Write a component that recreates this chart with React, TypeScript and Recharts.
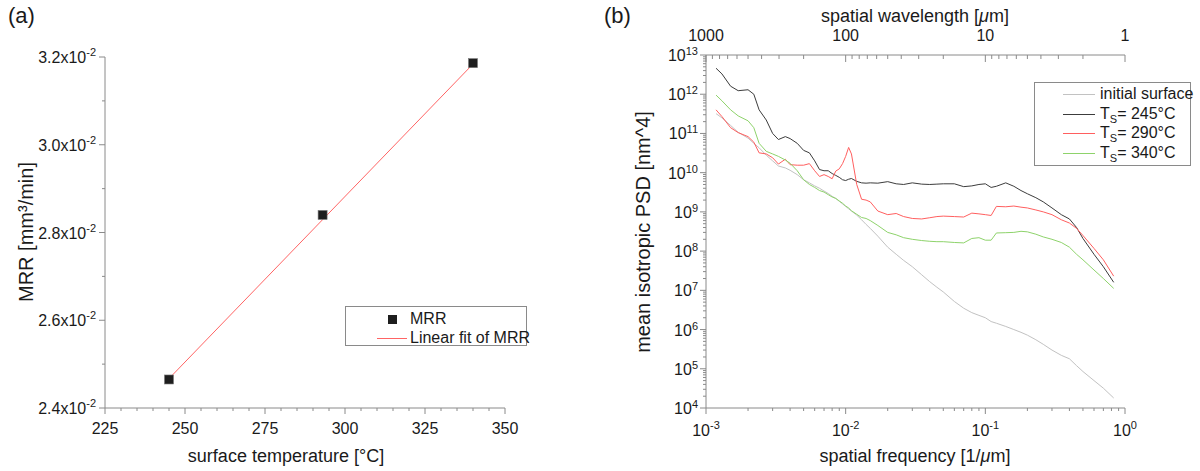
import {
  ComposedChart,
  Line,
  LineChart,
  Scatter,
  XAxis,
  YAxis,
} from "recharts";

const FONT = '"Liberation Sans", Arial, Helvetica, sans-serif';
const AXIS = "#8a8a8a";
const INK = "#1a1a1a";
const TICK_FONT = 16;
const SUP_FONT = 11;

// (a) material removal rate vs surface temperature
const temperatures = [245, 293, 340];
const mrrValues = [0.02465, 0.0284, 0.03186];
const fitTemperatures = [245, 340];
const fitValues = [0.02467, 0.03184];
const tempTicks = [
  225, 230, 235, 240, 245, 250, 255, 260, 265, 270, 275, 280, 285, 290, 295, 300,
  305, 310, 315, 320, 325, 330, 335, 340, 345, 350,
];
const tempMajor = [225, 250, 275, 300, 325, 350];
const mrrTicks = [0.024, 0.025, 0.026, 0.027, 0.028, 0.029, 0.03, 0.031, 0.032];
const mrrMajor = [0.024, 0.026, 0.028, 0.03, 0.032];
const mrrMajorLabels = ["2.4", "2.6", "2.8", "3.0", "3.2"];

// (b) mean isotropic PSD vs spatial frequency
const freq = [
  0.00118, 0.0013, 0.0015, 0.0017, 0.002, 0.0022, 0.0024, 0.0027, 0.003, 0.0033,
  0.0037, 0.004, 0.0045, 0.005, 0.0055, 0.006, 0.0065, 0.007, 0.0075, 0.008,
  0.0085, 0.009, 0.0095, 0.01, 0.0105, 0.011, 0.012, 0.013, 0.014, 0.015,
  0.017, 0.02, 0.023, 0.026, 0.03, 0.035, 0.04, 0.045, 0.05, 0.06,
  0.07, 0.08, 0.09, 0.1, 0.11, 0.12, 0.14, 0.16, 0.18, 0.2,
  0.23, 0.26, 0.3, 0.35, 0.4, 0.45, 0.5, 0.6, 0.7, 0.83,
];
const psdInitial = [
  3.2e11, 2.5e11, 1.6e11, 1.07e11, 7.6e10, 5.6e10, 4.3e10, 2.8e10, 2e10, 1.48e10,
  1.32e10, 1.15e10, 8.9e9, 6.6e9, 5.5e9, 4.6e9, 4e9, 3.4e9, 2.95e9, 2.5e9,
  2.2e9, 1.86e9, 1.6e9, 1.38e9, 1.2e9, 1.05e9, 8.3e8, 6.3e8, 4.8e8, 3.8e8,
  2.4e8, 1.26e8, 8.3e7, 5.8e7, 4e7, 2.5e7, 1.66e7, 1.2e7, 9.1e6, 5.2e6,
  3.5e6, 2.7e6, 2.3e6, 2e6, 1.6e6, 1.45e6, 1.2e6, 1e6, 8.5e5, 7.2e5,
  5.5e5, 4.2e5, 3e5, 2.2e5, 1.8e5, 1.2e5, 8.5e4, 5e4, 3.2e4, 1.8e4,
];
const psd245 = [
  4.6e12, 3.3e12, 1.6e12, 1.23e12, 1.3e12, 1.0e12, 4e11, 2.2e11, 1.0e11, 7e10,
  8.3e10, 7.4e10, 5.6e10, 3.7e10, 3.2e10, 2e10, 1.2e10, 1.12e10, 1.12e10, 9.5e9,
  8.5e9, 7.6e9, 6.6e9, 6.3e9, 6.8e9, 7.1e9, 6e9, 5.5e9, 5.4e9, 5.5e9,
  5.4e9, 5.9e9, 5.2e9, 5.0e9, 5.5e9, 5.1e9, 5.0e9, 5.1e9, 5.2e9, 5.2e9,
  4.4e9, 4.6e9, 5.0e9, 5.2e9, 4.2e9, 4.5e9, 5.5e9, 4.5e9, 3.5e9, 2.9e9,
  2.3e9, 1.8e9, 1.26e9, 8.5e8, 6.6e8, 4e8, 2.1e8, 8.3e7, 4e7, 1.6e7,
];
const psd290 = [
  4.0e11, 2.7e11, 1.4e11, 1.05e11, 8.3e10, 6e10, 3.2e10, 3.0e10, 2.4e10, 1.66e10,
  2.2e10, 1.6e10, 1.55e10, 1.55e10, 1.7e10, 1.12e10, 8e9, 8.9e9, 8e9, 7e9,
  1.1e10, 1.25e10, 1.7e10, 2.6e10, 4.4e10, 3.0e10, 5e9, 2.1e9, 2e9, 1.8e9,
  1.05e9, 8.5e8, 9.1e8, 7.6e8, 6.8e8, 6.6e8, 7.1e8, 7.6e8, 7.8e8, 7.6e8,
  7.4e8, 9.3e8, 8.9e8, 8.5e8, 8.1e8, 1.38e9, 1.35e9, 1.41e9, 1.32e9, 1.26e9,
  1.12e9, 1.0e9, 8.5e8, 6.3e8, 5.2e8, 3.8e8, 2.5e8, 1.17e8, 6e7, 2.3e7,
];
const psd340 = [
  9.5e11, 6.8e11, 4e11, 2.8e11, 2.1e11, 1.4e11, 5.6e10, 3.5e10, 3e10, 2.6e10,
  2.1e10, 1.74e10, 1.12e10, 6.6e9, 5e9, 4.2e9, 3.5e9, 3.2e9, 2.75e9, 2.4e9,
  2.2e9, 1.9e9, 1.66e9, 1.41e9, 1.26e9, 1.07e9, 8.7e8, 7.2e8, 6.8e8, 6e8,
  4.5e8, 3e8, 2.6e8, 2.2e8, 2e8, 1.86e8, 1.78e8, 1.74e8, 1.74e8, 1.66e8,
  1.62e8, 2.1e8, 2.2e8, 1.9e8, 1.9e8, 2.9e8, 2.95e8, 3e8, 3.2e8, 3.1e8,
  2.7e8, 2.3e8, 2e8, 1.66e8, 1.26e8, 8.3e7, 6e7, 3.3e7, 2e7, 1.12e7,
];
const freqTicks = [
  0.001, 0.002, 0.003, 0.004, 0.005, 0.006, 0.007, 0.008, 0.009,
  0.01, 0.02, 0.03, 0.04, 0.05, 0.06, 0.07, 0.08, 0.09,
  0.1, 0.2, 0.3, 0.4, 0.5, 0.6, 0.7, 0.8, 0.9, 1,
];
const freqMajor = [0.001, 0.01, 0.1, 1];
const freqMajorExp = ["-3", "-2", "-1", "0"];
const wavelengths = [
  1000, 900, 800, 700, 600, 500, 400, 300, 200,
  100, 90, 80, 70, 60, 50, 40, 30, 20,
  10, 9, 8, 7, 6, 5, 4, 3, 2, 1,
];
const wavelengthMajor = [1000, 100, 10, 1];
const psdDecades = [4, 5, 6, 7, 8, 9, 10, 11, 12, 13];
const psdSteps = [1, 2, 3, 4, 5, 6, 7, 8, 9];

const mrrPoints = temperatures.map((t, i) => ({ t, v: mrrValues[i] }));
const fitPoints = fitTemperatures.map((t, i) => ({ t, v: fitValues[i] }));
const psdRows = freq.map((f, i) => ({
  f,
  initial: psdInitial[i],
  t245: psd245[i],
  t290: psd290[i],
  t340: psd340[i],
}));
const psdTicks = psdDecades.flatMap((d) =>
  psdSteps.filter((s) => d < 13 || s === 1).map((s) => s * Math.pow(10, d))
);
const topTicks = wavelengths.map((w) => 1 / w);

const near = (a: number, b: number) => Math.abs(a - b) <= Math.abs(b) * 1e-6;

type TickProps = { x: number; y: number; payload: { value: number } };

function TempTick({ x, y, payload }: TickProps) {
  const major = tempMajor.includes(payload.value);
  return (
    <g>
      <line x1={x} x2={x} y1={y} y2={y + (major ? 6 : 3)} stroke={AXIS} />
      {major && (
        <text x={x} y={y + 26} textAnchor="middle" fontSize={TICK_FONT} fill={INK} fontFamily={FONT}>
          {payload.value}
        </text>
      )}
    </g>
  );
}

function MrrTick({ x, y, payload }: TickProps) {
  const idx = mrrMajor.findIndex((m) => near(payload.value, m));
  const major = idx >= 0;
  return (
    <g>
      <line x1={x} x2={x - (major ? 6 : 3)} y1={y} y2={y} stroke={AXIS} />
      {major && (
        <text x={x - 9} y={y + 6} textAnchor="end" fontSize={TICK_FONT} fill={INK} fontFamily={FONT}>
          {mrrMajorLabels[idx]}x10
          <tspan dy={-7} fontSize={SUP_FONT}>
            -2
          </tspan>
        </text>
      )}
    </g>
  );
}

function FreqTick({ x, y, payload }: TickProps) {
  const idx = freqMajor.findIndex((m) => near(payload.value, m));
  const major = idx >= 0;
  return (
    <g>
      <line x1={x} x2={x} y1={y} y2={y + (major ? 6 : 3)} stroke={AXIS} />
      {major && (
        <text x={x} y={y + 28} textAnchor="middle" fontSize={TICK_FONT} fill={INK} fontFamily={FONT}>
          10
          <tspan dy={-7} fontSize={SUP_FONT}>
            {freqMajorExp[idx]}
          </tspan>
        </text>
      )}
    </g>
  );
}

function WavelengthTick({ x, y, payload }: TickProps) {
  const w = Math.round(1 / payload.value);
  const major = wavelengthMajor.includes(w);
  return (
    <g>
      <line x1={x} x2={x} y1={y} y2={y + (major ? 7 : 4)} stroke={AXIS} />
      {major && (
        <text x={x} y={y - 14} textAnchor="middle" fontSize={TICK_FONT} fill={INK} fontFamily={FONT}>
          {w}
        </text>
      )}
    </g>
  );
}

function PsdTick({ x, y, payload }: TickProps) {
  const exp = Math.round(Math.log10(payload.value));
  const major = near(payload.value, Math.pow(10, exp));
  return (
    <g>
      <line x1={x} x2={x - (major ? 6 : 3)} y1={y} y2={y} stroke={AXIS} />
      {major && (
        <text x={x - 8} y={y + 6} textAnchor="end" fontSize={TICK_FONT} fill={INK} fontFamily={FONT}>
          10
          <tspan dy={-6} fontSize={SUP_FONT}>
            {exp}
          </tspan>
        </text>
      )}
    </g>
  );
}

const abs = (left: number, top: number, extra: React.CSSProperties = {}): React.CSSProperties => ({
  position: "absolute",
  left,
  top,
  whiteSpace: "nowrap",
  ...extra,
});

function Title({ x, y, size = 18, rotate = false, children }: {
  x: number;
  y: number;
  size?: number;
  rotate?: boolean;
  children: React.ReactNode;
}) {
  return (
    <div
      style={abs(x, y, {
        fontSize: size,
        color: INK,
        transform: `translate(-50%, -50%)${rotate ? " rotate(-90deg)" : ""}`,
      })}
    >
      {children}
    </div>
  );
}

function LegendSwatch({ color }: { color: string }) {
  return <span style={{ display: "inline-block", width: 32, height: 1, background: color, marginRight: 5, verticalAlign: "middle" }} />;
}

const lines = [
  { key: "initial", color: "#c2c2c2", label: <>initial surface</> },
  { key: "t245", color: "#3c3c3c", label: <>T<sub style={{ fontSize: 11 }}>S</sub>= 245°C</> },
  { key: "t290", color: "#ff5f5f", label: <>T<sub style={{ fontSize: 11 }}>S</sub>= 290°C</> },
  { key: "t340", color: "#8ed36b", label: <>T<sub style={{ fontSize: 11 }}>S</sub>= 340°C</> },
];

export default function App() {
  return (
    <div
      style={{
        position: "absolute",
        left: 0,
        top: 0,
        width: 1200,
        height: 471,
        background: "#fff",
        fontFamily: FONT,
        overflow: "hidden",
      }}
    >
      <div style={abs(0, 0)}>
        <ComposedChart width={560} height={471} margin={{ top: 57, right: 55, bottom: 33, left: 0 }}>
          <XAxis
            type="number"
            dataKey="t"
            domain={[225, 350]}
            ticks={tempTicks}
            interval={0}
            height={30}
            tickSize={0}
            tickMargin={0}
            tickLine={false}
            axisLine={{ stroke: AXIS }}
            allowDataOverflow
            tick={(p: TickProps) => <TempTick {...p} />}
          />
          <YAxis
            type="number"
            dataKey="v"
            domain={[0.024, 0.032]}
            ticks={mrrTicks}
            interval={0}
            width={105}
            tickSize={0}
            tickMargin={0}
            tickLine={false}
            axisLine={{ stroke: AXIS }}
            allowDataOverflow
            tick={(p: TickProps) => <MrrTick {...p} />}
          />
          <Scatter
            data={mrrPoints}
            dataKey="v"
            isAnimationActive={false}
            shape={(p: { cx: number; cy: number }) => (
              <rect x={p.cx - 4.5} y={p.cy - 4.5} width={9} height={9} fill="#1e1e1e" stroke="#777" strokeWidth={0.6} />
            )}
          />
          <Line
            data={fitPoints}
            dataKey="v"
            type="linear"
            stroke="#ff6464"
            strokeWidth={1}
            dot={false}
            isAnimationActive={false}
          />
        </ComposedChart>
      </div>

      <div style={abs(560, 0)}>
        <LineChart width={640} height={471} data={psdRows} margin={{ top: 25, right: 75, bottom: 33, left: 0 }}>
          <XAxis
            xAxisId="bottom"
            type="number"
            dataKey="f"
            scale="log"
            domain={[0.001, 1]}
            ticks={freqTicks}
            interval={0}
            height={30}
            tickSize={0}
            tickMargin={0}
            tickLine={false}
            axisLine={{ stroke: AXIS }}
            allowDataOverflow
            tick={(p: TickProps) => <FreqTick {...p} />}
          />
          <XAxis
            xAxisId="top"
            orientation="top"
            type="number"
            dataKey="f"
            scale="log"
            domain={[0.001, 1]}
            ticks={topTicks}
            interval={0}
            height={30}
            tickSize={0}
            tickMargin={0}
            tickLine={false}
            axisLine={{ stroke: AXIS }}
            allowDataOverflow
            tick={(p: TickProps) => <WavelengthTick {...p} />}
          />
          <YAxis
            type="number"
            scale="log"
            domain={[1e4, 1e13]}
            ticks={psdTicks}
            interval={0}
            width={146}
            tickSize={0}
            tickMargin={0}
            tickLine={false}
            axisLine={{ stroke: AXIS }}
            allowDataOverflow
            tick={(p: TickProps) => <PsdTick {...p} />}
          />
          {lines.map((l) => (
            <Line
              key={l.key}
              xAxisId="bottom"
              dataKey={l.key}
              type="linear"
              stroke={l.color}
              strokeWidth={1}
              dot={false}
              isAnimationActive={false}
            />
          ))}
        </LineChart>
      </div>

      {/* panel (a) texts and legend */}
      <div style={abs(8, 3, { fontSize: 22, color: INK })}>(a)</div>
      <Title x={26} y={232} size={20} rotate>
        MRR [mm³/min]
      </Title>
      <Title x={286} y={456}>surface temperature [°C]</Title>
      <div
        style={abs(345, 306, {
          width: 182,
          height: 40,
          border: `1px solid ${AXIS}`,
          background: "#fff",
          fontSize: 16,
          color: INK,
          boxSizing: "border-box",
        })}
      >
        <div style={abs(42, 8, { width: 9, height: 9, background: "#1e1e1e" })} />
        <div style={abs(64, 3, { lineHeight: "17px" })}>MRR</div>
        <div style={abs(31, 31, { width: 30, height: 1, background: "#ff6464" })} />
        <div style={abs(64, 22, { lineHeight: "17px" })}>Linear fit of MRR</div>
      </div>

      {/* panel (b) texts and legend */}
      <div style={abs(604, 3, { fontSize: 22, color: INK })}>(b)</div>
      <Title x={643} y={232} size={20} rotate>
        mean isotropic PSD [nm^4]
      </Title>
      <Title x={915} y={456}>
        spatial frequency [1/<i>μ</i>m]
      </Title>
      <Title x={915} y={16}>
        spatial wavelength [<i>μ</i>m]
      </Title>
      <div
        style={abs(1034, 82, {
          width: 157,
          height: 84,
          border: `1px solid ${AXIS}`,
          background: "#fff",
          fontSize: 16,
          color: INK,
          boxSizing: "border-box",
        })}
      >
        {lines.map((l, i) => (
          <div key={l.key} style={abs(28, 2 + i * 19.5, { lineHeight: "18px" })}>
            <LegendSwatch color={l.color} />
            {l.label}
          </div>
        ))}
      </div>
    </div>
  );
}
